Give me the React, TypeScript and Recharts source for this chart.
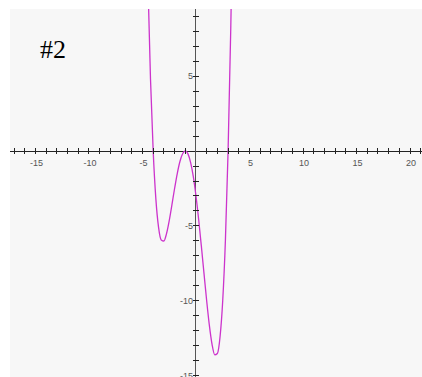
import React from 'react';
import { LineChart, Line, XAxis, YAxis, ReferenceLine, ReferenceArea, ReferenceDot } from 'recharts';

// sampled points along the plotted curve
const curveX = [
  -4.5, -4.25, -4, -3.75, -3.5, -3.25, -3, -2.75, -2.5, -2.25, -2, -1.75, -1.5, -1.25, -1,
  -0.75, -0.5, -0.25, 0, 0.25, 0.5, 0.75, 1, 1.25, 1.5, 1.75, 2, 2.25, 2.5, 2.75, 3, 3.25, 3.4,
];
const curveY = [
  11.48, 4.79, 0, -3.19, -5.08, -5.93, -6, -5.5, -4.64, -3.59, -2.5, -1.5, -0.7, -0.18, 0,
  -0.19, -0.77, -1.71, -3, -4.57, -6.33, -8.18, -10, -11.63, -12.89, -13.59, -13.5, -12.38, -9.95, -5.93, 0, 8.18, 14.33,
];

const xTicks = [-17, -16, -15, -14, -13, -12, -11, -10, -9, -8, -7, -6, -5, -4, -3, -2, -1, 1, 2, 3, 4, 5, 6, 7, 8, 9, 10, 11, 12, 13, 14, 15, 16, 17, 18, 19, 20, 21];
const yTicks = [-15, -14, -13, -12, -11, -10, -9, -8, -7, -6, -5, -4, -3, -2, -1, 1, 2, 3, 4, 5, 6, 7, 8, 9];
const xLabels = [-15, -10, -5, 5, 10, 15, 20];
const yLabels = [-15, -10, -5, 5];

const X_DOMAIN: [number, number] = [-17.38, 21.12];
const Y_DOMAIN: [number, number] = [-15.07, 9.47];

const data = curveX.map((x, i) => ({ x, y: curveY[i] }));

const labelStyle = { fontFamily: 'Arial, "Liberation Sans", sans-serif', fontSize: 9, fill: '#555' };

const xTickShape = (v: number) => (props: any) => {
  const { cx, cy } = props;
  return (
    <g>
      <line x1={cx} x2={cx} y1={cy - 3} y2={cy + 3} stroke="#222" shapeRendering="crispEdges" />
      {xLabels.includes(v) && (
        <text x={cx + 1} y={cy + 15} textAnchor="middle" {...labelStyle}>{v}</text>
      )}
    </g>
  );
};

const yTickShape = (v: number) => (props: any) => {
  const { cx, cy } = props;
  return (
    <g>
      <line x1={cx - 3} x2={cx + 3} y1={cy} y2={cy} stroke="#222" shapeRendering="crispEdges" />
      {yLabels.includes(v) && (
        <text x={cx - 3} y={cy + 3} textAnchor="end" {...labelStyle}>{v}</text>
      )}
    </g>
  );
};

export default function App() {
  return (
    <div style={{ position: 'absolute', left: 0, top: 0, width: 422, height: 377, background: '#fff' }}>
      <LineChart width={422} height={377} data={data} margin={{ top: 9, left: 10, right: 0, bottom: 0 }}>
        <XAxis type="number" dataKey="x" domain={X_DOMAIN} allowDataOverflow hide />
        <YAxis type="number" domain={Y_DOMAIN} allowDataOverflow hide />
        <ReferenceArea x1={X_DOMAIN[0]} x2={X_DOMAIN[1]} y1={Y_DOMAIN[0]} y2={Y_DOMAIN[1]} fill="#f7f7f7" fillOpacity={1} stroke="none" />
        <ReferenceLine y={0} stroke="#222" shapeRendering="crispEdges" />
        <ReferenceLine x={0} stroke="#555" shapeRendering="crispEdges" />
        {xTicks.map((v) => (
          <ReferenceDot key={'x' + v} x={v} y={0} r={0} shape={xTickShape(v)} />
        ))}
        {yTicks.map((v) => (
          <ReferenceDot key={'y' + v} x={0} y={v} r={0} shape={yTickShape(v)} />
        ))}
        <Line type="monotone" dataKey="y" stroke="#cc33cc" strokeWidth={1.3} dot={false} isAnimationActive={false} />
      </LineChart>
      <div style={{ position: 'absolute', left: 40, top: 37, fontFamily: '"Times New Roman", "Liberation Serif", serif', fontSize: 26, color: '#000', lineHeight: 1 }}>
        #2
      </div>
    </div>
  );
}
